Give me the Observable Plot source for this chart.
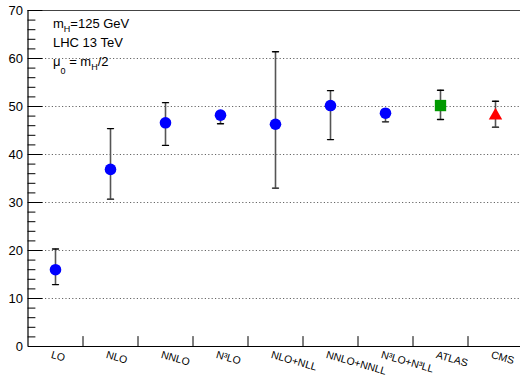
<!DOCTYPE html>
<html><head><meta charset="utf-8">
<script src="https://cdn.jsdelivr.net/npm/d3@7"></script>
<script src="https://cdn.jsdelivr.net/npm/@observablehq/plot@0.6"></script>
<style>body{margin:0;background:#fff} svg{display:block}</style>
</head><body><div id="chart"></div>
<script>
const categories = ["LO","NLO","NNLO","N³LO","NLO+NLL","NNLO+NNLL","N³LO+N³LL","ATLAS","CMS"];
const central = [16.0, 36.9, 46.6, 48.2, 46.3, 50.2, 48.6, 50.2, 48.1];
const lower   = [12.9, 30.7, 41.9, 46.4, 33.0, 43.1, 46.8, 47.3, 45.7];
const upper   = [20.3, 45.4, 50.8, 48.9, 61.4, 53.3, 49.4, 53.4, 51.1];
const kinds   = ["theory","theory","theory","theory","theory","theory","theory","ATLAS","CMS"];
const yMajor = [0, 10, 20, 30, 40, 50, 60, 70];
const yTickLabels = ["0","10","20","30","40","50","60","70"];
const yGrid = [10, 20, 30, 40, 50, 60];
const yMinor = [2,4,6,8,12,14,16,18,22,24,26,28,32,34,36,38,42,44,46,48,52,54,56,58,62,64,66,68];
const binEdges = [1,2,3,4,5,6,7,8];

const rows = categories.map((c, i) => ({cat: c, x: i + 0.5, y: central[i], lo: lower[i], hi: upper[i], kind: kinds[i]}));
const lineShape = {draw(context, l) { context.moveTo(0, 0); context.lineTo(0, -l); }};

const plot = Plot.plot({
  width: 520, height: 378,
  marginLeft: 28, marginRight: 0, marginTop: 10, marginBottom: 32,
  style: {fontFamily: "'Liberation Sans', Arial, sans-serif", background: "white", color: "black"},
  x: {type: "linear", domain: [0, 9], range: [27.5, 522.5], axis: null},
  y: {type: "linear", domain: [0, 70], range: [346, 10], axis: null},
  marks: [
    Plot.ruleY(yGrid, {stroke: "#666", strokeDasharray: "1.2,2.2", strokeWidth: 1}),
    Plot.ruleY([70], {stroke: "#444", strokeWidth: 1.2}),
    Plot.ruleY([0], {stroke: "black", strokeWidth: 1.2}),
    Plot.ruleX([0], {y1: 0, y2: 70, stroke: "black", strokeWidth: 1.2}),
    Plot.vector(yMajor, {x: () => 0, y: d => d, length: 14, rotate: 90, anchor: "start", shape: lineShape, stroke: "black", strokeWidth: 1}),
    Plot.vector(yMinor, {x: () => 0, y: d => d, length: 7, rotate: 90, anchor: "start", shape: lineShape, stroke: "black", strokeWidth: 1}),
    Plot.vector(binEdges, {x: d => d, y: () => 0, length: 10, rotate: 0, anchor: "start", shape: lineShape, stroke: "black", strokeWidth: 1}),
    Plot.text(yMajor, {x: () => 0, y: d => d, text: (d, i) => yTickLabels[i], textAnchor: "end", dx: -5, fontSize: 13, fill: "black"}),
    Plot.text(rows, {x: "x", y: () => 0, text: "cat", textAnchor: "start", lineAnchor: "top", rotate: 16, dx: -3, dy: 4, fontSize: 10.5, fill: "black"}),
    Plot.ruleX(rows, {x: "x", y1: "lo", y2: "hi", stroke: "#555", strokeWidth: 1.6}),
    Plot.vector(rows, {x: "x", y: "hi", length: 6, rotate: 90, anchor: "middle", shape: lineShape, stroke: "black", strokeWidth: 1.4}),
    Plot.vector(rows, {x: "x", y: "lo", length: 6, rotate: 90, anchor: "middle", shape: lineShape, stroke: "black", strokeWidth: 1.4}),
    Plot.dot(rows.filter(d => d.kind === "theory"), {x: "x", y: "y", r: 5.8, fill: "#0000ff", symbol: "circle"}),
    Plot.dot(rows.filter(d => d.kind === "ATLAS"), {x: "x", y: "y", r: 6.4, fill: "#009900", symbol: "square"}),
    Plot.dot(rows.filter(d => d.kind === "CMS"), {x: "x", y: "y", r: 5, fill: "#ff0000", symbol: "triangle"})
  ]
});

const svg = d3.select(plot);
const g = svg.append("g").attr("font-size", 13).attr("fill", "black").attr("text-anchor", "start").attr("font-family", "'Liberation Sans', Arial, sans-serif");
const t1 = g.append("text").attr("x", 53).attr("y", 28);
t1.append("tspan").text("m");
t1.append("tspan").attr("font-size", 9).attr("dy", 4).text("H");
t1.append("tspan").attr("dy", -4).text("=125 GeV");
g.append("text").attr("x", 53).attr("y", 47).text("LHC 13 TeV");
const t3 = g.append("text").attr("x", 53).attr("y", 66);
t3.append("tspan").text("μ");
t3.append("tspan").attr("font-size", 9).attr("dy", 8).text("0");
t3.append("tspan").attr("dy", -8).text(" = m");
t3.append("tspan").attr("font-size", 9).attr("dy", 4).text("H");
t3.append("tspan").attr("dy", -4).text("/2");

document.getElementById("chart").appendChild(plot);
</script>
</body></html>
